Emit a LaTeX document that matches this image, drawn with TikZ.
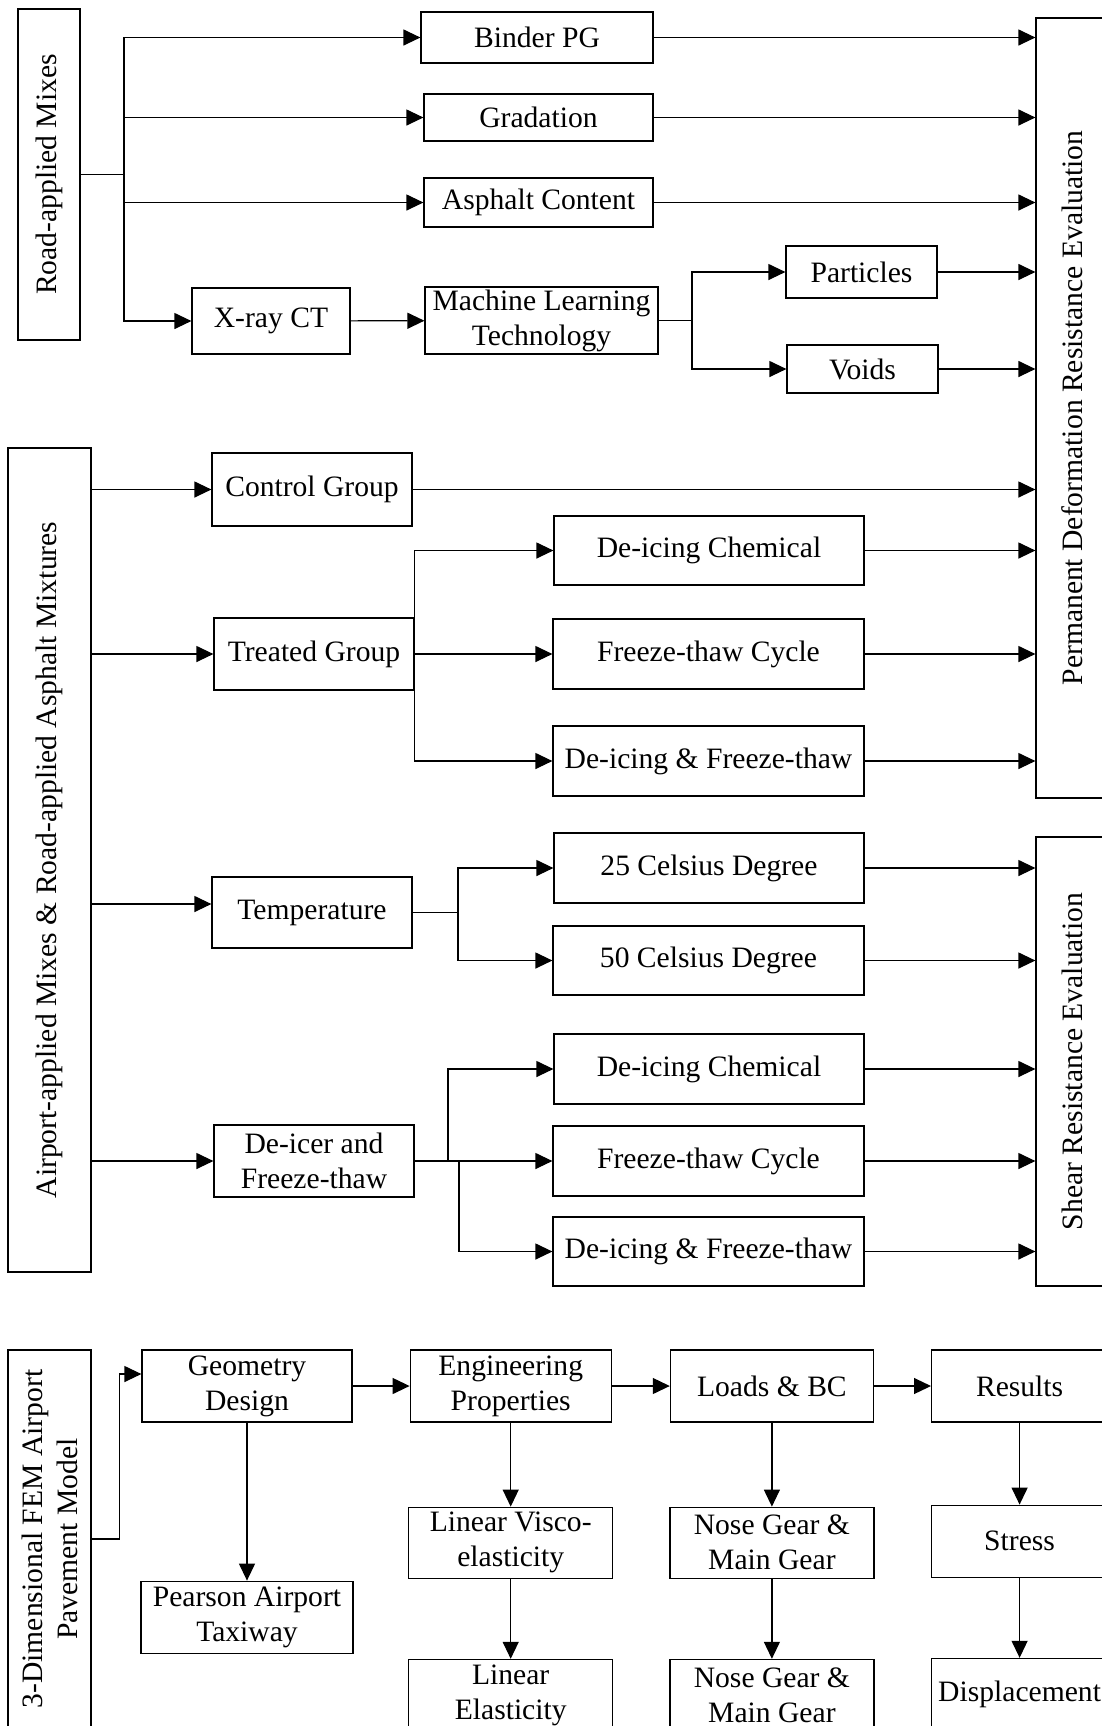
\documentclass[tikz,border=0pt]{standalone}
\usepackage{fontspec}
\setmainfont{Liberation Serif}
\usetikzlibrary{arrows.meta, positioning}

\begin{document}
\begin{tikzpicture}[x=0.5pt, y=-0.5pt,
		box/.style={draw, line width=0.6pt, inner sep=0pt, align=center, font=\fontsize{14.8}{17.5}\selectfont},
		dims/.style 2 args={minimum width=#1*0.5pt, minimum height=#2*0.5pt},
		side/.style={box, rotate=90},
		link/.style={line width=0.6pt},
		flow/.style={link, -{Triangle[length=8.5pt, width=8pt]}}]
	\useasboundingbox (0,0) rectangle (1102,1726);
	\clip (0,0) rectangle (1102,1726);

	\node [side, dims={331}{62}] (road) at (49,174.5) {Road-applied Mixes};
	\node [side, dims={780}{72}] (perm) at (1072,408) {Permanent Deformation Resistance Evaluation};
	\node [box, dims={232}{51}] (binder) at (537,37.5) {Binder PG};
	\node [box, dims={229}{47}] (grad) at (538.5,117.5) {Gradation};
	\node [box, dims={229}{49}] (asph) at (538.5,202.5) {Asphalt Content};
	\node [box, dims={158}{66}] (xray) at (271,321) {X-ray CT};
	\node [box, dims={233}{67}] (mlt) at (541.5,320.5) {Machine Learning\\Technology};
	\node [box, dims={151}{52}] (part) at (861.5,272) {Particles};
	\node [box, dims={151}{48}] (voids) at (862.5,369) {Voids};

	\coordinate (j1) at (124,174.5);
	\coordinate (j2) at (692,320.5);
	\draw [link] (road.south) -- (j1);
	\foreach \n in {binder, grad, asph, xray}
		\draw [flow] (j1) |- (\n);
	\draw [flow] (xray) -- (mlt);
	\draw [link] (mlt.east) -- (j2);
	\draw [flow] (j2) |- (part);
	\draw [flow] (j2) |- (voids);
	\foreach \n in {binder, grad, asph, part, voids}
		\draw [flow] (\n.east) -- (\n.east -| perm.north);

	\node [side, dims={824}{83}] (air) at (49.5,860) {Airport-applied Mixes \& Road-applied Asphalt Mixtures};
	\node [side, dims={449}{72}] (shear) at (1072,1061.5) {Shear Resistance Evaluation};
	\node [box, dims={200}{73}] (ctrl) at (312,489.5) {Control Group};
	\node [box, dims={200}{72}] (treat) at (314,654) {Treated Group};
	\node [box, dims={200}{71}] (temp) at (312,912.5) {Temperature};
	\node [box, dims={200}{72}] (deft) at (314,1161) {De-icer and\\Freeze-thaw};
	\node [box, dims={310}{69}] (chem1) at (709,550.5) {De-icing Chemical};
	\node [box, dims={311}{70}] (cyc1) at (708.5,654) {Freeze-thaw Cycle};
	\node [box, dims={311}{70}] (both1) at (708.5,761) {De-icing \& Freeze-thaw};
	\node [box, dims={310}{70}] (c25) at (709,868) {25 Celsius Degree};
	\node [box, dims={311}{69}] (c50) at (708.5,960.5) {50 Celsius Degree};
	\node [box, dims={310}{70}] (chem2) at (709,1069) {De-icing Chemical};
	\node [box, dims={311}{70}] (cyc2) at (708.5,1161) {Freeze-thaw Cycle};
	\node [box, dims={311}{69}] (both2) at (708.5,1251.5) {De-icing \& Freeze-thaw};

	\coordinate (tin) at ([yshift=4.25pt]temp.west);
	\foreach \n in {ctrl, treat, tin, deft}
		\draw [flow] (air.south |- \n) -- (\n);
	\draw [flow] (treat.east) |- (chem1);
	\draw [flow] (treat.east) -- (cyc1);
	\draw [flow] (treat.east) |- (both1);
	\coordinate (j3) at (458,912.5);
	\coordinate (j4) at (448,1161);
	\coordinate (j5) at (459,1161);
	\draw [link] (temp.east) -- (j3);
	\draw [flow] (j3) |- (c25);
	\draw [flow] (j3) |- (c50);
	\draw [flow] (deft.east) -- (cyc2);
	\draw [flow] (j4) |- (chem2);
	\draw [flow] (j5) |- (both2);
	\foreach \n in {ctrl, chem1, cyc1, both1}
		\draw [flow] (\n.east) -- (\n.east -| perm.north);
	\foreach \n in {c25, c50, chem2, cyc2, both2}
		\draw [flow] (\n.east) -- (\n.east -| shear.north);

	\node [side, dims={378}{83}] (fem) at (49.5,1539) {3-Dimensional FEM Airport\\Pavement Model};
	\node [box, dims={210}{72}] (geo) at (247,1386) {Geometry\\Design};
	\node [box, dims={201}{72}, right=28.5pt of geo] (eng) {Engineering\\Properties};
	\node [box, dims={203}{72}, right=29pt of eng] (loads) {Loads \& BC};
	\node [box, dims={176}{72}, right=28.5pt of loads] (res) {Results};
	\node [box, dims={212}{72}, below=79pt of geo] (pear) {Pearson Airport\\Taxiway};
	\node [box, dims={204}{71}, below=42pt of eng] (visco) {Linear Visco-\\elasticity};
	\node [box, dims={204}{72}, below=40pt of visco] (elas) {Linear\\Elasticity};
	\node [box, dims={204}{71}, below=42pt of loads] (nose1) {Nose Gear \&\\Main Gear};
	\node [box, dims={204}{72}, below=40pt of nose1] (nose2) {Nose Gear \&\\Main Gear};
	\node [box, dims={176}{72}, below=41pt of res] (stress) {Stress};
	\node [box, dims={176}{72}, below=40pt of stress] (disp) {Displacement};

	\draw [flow] (fem.south) -- ++(28,0) |- ([yshift=6pt]geo.west);
	\draw [flow] (geo) -- (eng);
	\draw [flow] (eng) -- (loads);
	\draw [flow] (loads) -- (res);
	\draw [flow] (geo) -- (pear);
	\draw [flow] (eng) -- (visco);
	\draw [flow] (visco) -- (elas);
	\draw [flow] (loads) -- (nose1);
	\draw [flow] (nose1) -- (nose2);
	\draw [flow] (res) -- (stress);
	\draw [flow] (stress) -- (disp);
\end{tikzpicture}
\end{document}
